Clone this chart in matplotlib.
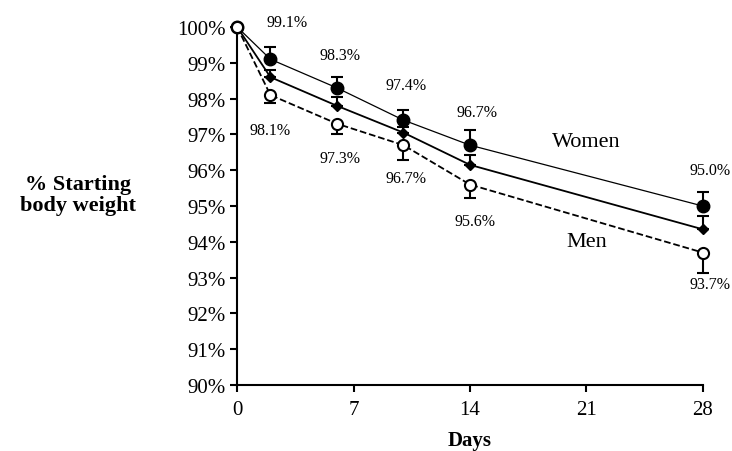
import matplotlib
matplotlib.use("Agg")
import matplotlib.pyplot as plt
from matplotlib.ticker import FuncFormatter

plt.rcParams['font.family'] = ['Liberation Serif', 'DejaVu Serif']

days = [0, 2, 6, 10, 14, 28]
women = [100, 99.1, 98.3, 97.4, 96.7, 95.0]
overall = [100, 98.6, 97.8, 97.05, 96.15, 94.35]
men = [100, 98.1, 97.3, 96.7, 95.6, 93.7]
women_err = [0, 0.33, 0.3, 0.28, 0.41, 0.4]
overall_err = [0, 0.2, 0.24, 0.15, 0.27, 0.36]
men_err = [0, 0.22, 0.29, 0.42, 0.38, 0.57]
women_labels = ['99.1%', '98.3%', '97.4%', '96.7%', '95.0%']
men_labels = ['98.1%', '97.3%', '96.7%', '95.6%', '93.7%']

fig = plt.figure(figsize=(7.32, 4.52), dpi=100)
ax = fig.add_axes([0.324, 0.146, 0.636, 0.792])

ebkw = dict(capsize=4, elinewidth=1.5, capthick=1.5, ecolor='black', clip_on=False)
zeros = [0] * len(days)
ax.errorbar(days, women, yerr=[zeros, women_err], color='black', lw=0.9, marker='o',
            ms=9, mfc='black', mec='black', zorder=3, **ebkw)
ax.errorbar(days, overall, yerr=[zeros, overall_err], color='black', lw=1.3, marker='D',
            ms=5, mfc='black', mec='black', zorder=3, **ebkw)
ax.errorbar(days, men, yerr=[men_err, zeros], color='black', lw=1.3, ls='--', marker='o',
            ms=8, mfc='white', mec='black', mew=1.5, zorder=4, **ebkw)

# value labels
w_off = [(12, 27), (2, 24), (2, 25), (5, 24), (5, 26)]
m_off = [(0, -25), (2, -25), (2, -24), (4, -26), (5, -23)]
for i in range(1, len(days)):
    ax.annotate(women_labels[i - 1], (days[i], women[i]), xytext=w_off[i - 1],
                textcoords='offset points', ha='center', va='center', fontsize=11.5)
    ax.annotate(men_labels[i - 1], (days[i], men[i]), xytext=m_off[i - 1],
                textcoords='offset points', ha='center', va='center', fontsize=11.5)

ax.text(21.0, 96.8, 'Women', fontsize=16, ha='center', va='center')
ax.text(21.0, 94.0, 'Men', fontsize=16, ha='center', va='center')

ax.set_xlim(0, 28)
ax.set_ylim(90, 100)
ax.set_xticks([0, 7, 14, 21, 28])
ax.set_yticks(range(90, 101))
ax.yaxis.set_major_formatter(FuncFormatter(lambda v, p: f'{v:.0f}%'))
ax.tick_params(labelsize=15, width=1.5, length=5, direction='out', pad=3)
ax.tick_params(axis='x', pad=6)
for s in ['top', 'right']:
    ax.spines[s].set_visible(False)
for s in ['left', 'bottom']:
    ax.spines[s].set_linewidth(1.5)

ax.set_xlabel('Days', fontsize=15, fontweight='bold', labelpad=8)
fig.text(0.107, 0.568, '% Starting\nbody weight', fontsize=16, fontweight='bold',
         ha='center', va='center', linespacing=1.05)

fig.savefig('out.png', dpi=100)
